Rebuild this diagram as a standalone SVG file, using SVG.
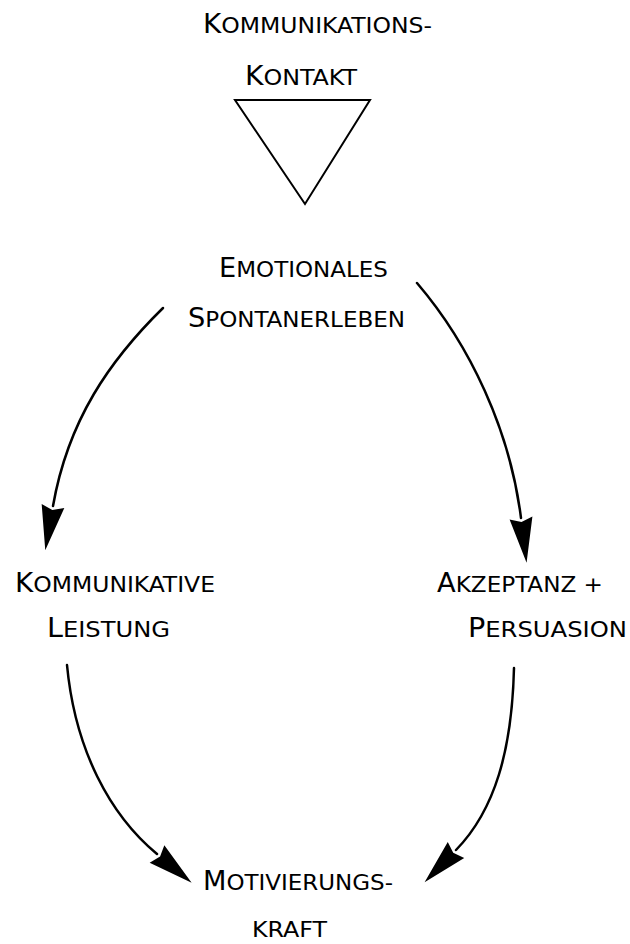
<svg xmlns="http://www.w3.org/2000/svg" width="630" height="944" viewBox="0 0 630 944">
<style>
text{font-family:"Liberation Sans Narrow","DejaVu Sans Condensed","Liberation Sans",sans-serif;font-size:22px;fill:#000}
.c{font-size:26px}
.edge{fill:none;stroke:#000;stroke-width:2.5;stroke-linecap:round;marker-end:url(#ah)}
.tri{fill:none;stroke:#000;stroke-width:2;stroke-linejoin:miter}
</style>
<defs>
<marker id="ah" markerUnits="userSpaceOnUse" markerWidth="48" markerHeight="26" refX="0" refY="11.5" orient="auto" overflow="visible">
<path d="M0,0 L45,11.5 L0,23 L4,11.5 Z" fill="#000"/>
</marker>
</defs>
<rect width="630" height="944" fill="#fff"/>
<g id="kontakt">
<text x="203" y="33" textLength="229" lengthAdjust="spacingAndGlyphs"><tspan class="c">K</tspan>OMMUNIKATIONS-</text>
<text x="245" y="85" textLength="112" lengthAdjust="spacingAndGlyphs"><tspan class="c">K</tspan>ONTAKT</text>
<polygon class="tri" points="235,100 370,100 305,204"/>
</g>
<g id="spontanerleben">
<text x="219" y="277" textLength="169" lengthAdjust="spacingAndGlyphs"><tspan class="c">E</tspan>MOTIONALES</text>
<text x="188" y="327" textLength="217" lengthAdjust="spacingAndGlyphs"><tspan class="c">S</tspan>PONTANERLEBEN</text>
</g>
<g id="leistung">
<text x="15" y="592" textLength="200" lengthAdjust="spacingAndGlyphs"><tspan class="c">K</tspan>OMMUNIKATIVE</text>
<text x="47" y="637" textLength="123" lengthAdjust="spacingAndGlyphs"><tspan class="c">L</tspan>EISTUNG</text>
</g>
<g id="persuasion">
<text x="437" y="592" textLength="166" lengthAdjust="spacingAndGlyphs"><tspan class="c">A</tspan>KZEPTANZ +</text>
<text x="468" y="637" textLength="159" lengthAdjust="spacingAndGlyphs"><tspan class="c">P</tspan>ERSUASION</text>
</g>
<g id="motivierungskraft">
<text x="203" y="890" textLength="190" lengthAdjust="spacingAndGlyphs"><tspan class="c">M</tspan>OTIVIERUNGS-</text>
<text x="252" y="937" textLength="75" lengthAdjust="spacingAndGlyphs">KRAFT</text>
</g>
<g id="connectors">
<path class="edge" d="M163,308 C110,360 68,420 53,506"/>
<path class="edge" d="M417,283 C470,345 510,430 521,518"/>
<path class="edge" d="M67,665 C75,750 110,815 157,854"/>
<path class="edge" d="M514,668 C512,750 495,810 456,850"/>
</g>
</svg>
